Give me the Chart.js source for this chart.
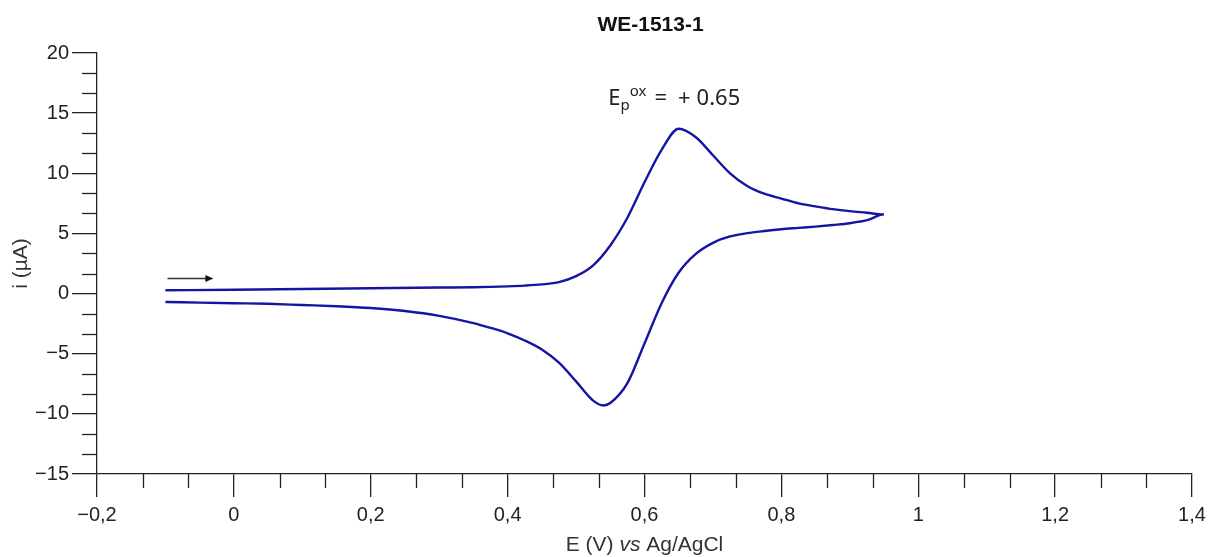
<!DOCTYPE html>
<html>
<head>
<meta charset="utf-8">
<title>WE-1513-1</title>
<script src="https://cdn.jsdelivr.net/npm/chart.js@4/dist/chart.umd.min.js"></script>
<style>
  html, body { margin: 0; padding: 0; background: #fff; }
  #wrap { width: 1212px; height: 557px; }
</style>
</head>
<body>
<div id="wrap"><canvas id="cvChart" width="1212" height="557"></canvas></div>
<script>
// forward scan (E in V, i in µA)
const forwardE = [-0.1, 0.0, 0.1, 0.2, 0.3, 0.35, 0.375, 0.40, 0.425, 0.45, 0.475, 0.50, 0.525, 0.55, 0.575, 0.60, 0.625, 0.65, 0.675, 0.70, 0.725, 0.75, 0.775, 0.80, 0.825, 0.85, 0.875, 0.90, 0.925, 0.95];
const forwardI = [0.27, 0.32, 0.38, 0.44, 0.5, 0.53, 0.56, 0.6, 0.66, 0.76, 0.95, 1.45, 2.35, 4.0, 6.3, 9.25, 11.95, 13.7, 13.0, 11.5, 10.0, 8.95, 8.3, 7.9, 7.5, 7.25, 7.02, 6.85, 6.72, 6.58];

// reverse scan
const reverseE = [0.95, 0.925, 0.90, 0.875, 0.85, 0.825, 0.80, 0.775, 0.75, 0.725, 0.70, 0.675, 0.65, 0.625, 0.60, 0.575, 0.55, 0.54, 0.525, 0.50, 0.475, 0.45, 0.425, 0.40, 0.375, 0.35, 0.30, 0.25, 0.20, 0.15, 0.10, 0.05, 0.0, -0.05, -0.1];
const reverseI = [6.58, 6.1, 5.85, 5.7, 5.57, 5.46, 5.35, 5.2, 5.02, 4.75, 4.22, 3.3, 1.75, -0.8, -4.15, -7.45, -9.1, -9.3, -8.9, -7.3, -5.75, -4.65, -3.9, -3.3, -2.85, -2.45, -1.85, -1.45, -1.2, -1.05, -0.95, -0.85, -0.8, -0.75, -0.7];

// axes
const xTickValues = [-0.2, 0, 0.2, 0.4, 0.6, 0.8, 1.0, 1.2, 1.4];
const xTickLabels = ['\u22120,2', '0', '0,2', '0,4', '0,6', '0,8', '1', '1,2', '1,4'];
const yTickValues = [-15, -10, -5, 0, 5, 10, 15, 20];
const yTickLabels = ['\u221215', '\u221210', '\u22125', '0', '5', '10', '15', '20'];

// annotations
const chartTitle = 'WE-1513-1';
const peakLabelAt = [0.547, 15.7];
const peakValue = '0.65';
const arrowFrom = [-0.097, 1.25];
const arrowTo = [-0.03, 1.25];

const ink = '#222';
const curveColor = '#1515a3';

const points = [];
forwardE.forEach(function (e, k) { points.push({ x: e, y: forwardI[k] }); });
reverseE.forEach(function (e, k) { if (k > 0) points.push({ x: e, y: reverseI[k] }); });

// small ticks (2 between each labelled tick) + annotations
const extrasPlugin = {
  id: 'extras',
  afterDraw(chart) {
    const ctx = chart.ctx;
    const xs = chart.scales.x;
    const ys = chart.scales.y;
    const area = chart.chartArea;
    ctx.save();
    ctx.strokeStyle = ink;
    ctx.lineWidth = 1.3;

    for (let k = 0; k < xTickValues.length - 1; k++) {
      const step = (xTickValues[k + 1] - xTickValues[k]) / 3;
      for (let m = 1; m < 3; m++) {
        const px = Math.round(xs.getPixelForValue(xTickValues[k] + m * step)) + 0.5;
        ctx.beginPath();
        ctx.moveTo(px, area.bottom);
        ctx.lineTo(px, area.bottom + 14);
        ctx.stroke();
      }
    }
    for (let k = 0; k < yTickValues.length - 1; k++) {
      const step = (yTickValues[k + 1] - yTickValues[k]) / 3;
      for (let m = 1; m < 3; m++) {
        const py = Math.round(ys.getPixelForValue(yTickValues[k] + m * step)) + 0.5;
        ctx.beginPath();
        ctx.moveTo(area.left - 15, py);
        ctx.lineTo(area.left, py);
        ctx.stroke();
      }
    }

    // title
    ctx.fillStyle = '#111';
    ctx.font = 'bold 21px "Liberation Sans", Arial, sans-serif';
    ctx.textAlign = 'center';
    ctx.textBaseline = 'alphabetic';
    ctx.fillText(chartTitle, (area.left + area.right) / 2 + 6, 31);

    // x axis title with italic "vs"
    const partA = 'E (V) ';
    const partB = 'vs';
    const partC = ' Ag/AgCl';
    const normal = '21px "Liberation Sans", Arial, sans-serif';
    const italic = 'italic 21px "Liberation Sans", Arial, sans-serif';
    ctx.font = normal;
    const wA = ctx.measureText(partA).width;
    const wC = ctx.measureText(partC).width;
    ctx.font = italic;
    const wB = ctx.measureText(partB).width;
    let tx = (area.left + area.right) / 2 - (wA + wB + wC) / 2;
    const ty = 551;
    ctx.textAlign = 'left';
    ctx.fillStyle = '#333';
    ctx.font = normal;
    ctx.fillText(partA, tx, ty);
    tx += wA;
    ctx.font = italic;
    ctx.fillText(partB, tx, ty);
    tx += wB;
    ctx.font = normal;
    ctx.fillText(partC, tx, ty);

    // E_p^ox = + 0.65
    let ax = xs.getPixelForValue(peakLabelAt[0]);
    const ay = ys.getPixelForValue(peakLabelAt[1]);
    const big = '22px "Noto Sans", sans-serif';
    const small = '15px "Noto Sans", sans-serif';
    ctx.fillStyle = '#222';
    ctx.font = big;
    ctx.fillText('E', ax, ay);
    ax += ctx.measureText('E').width;
    ctx.font = small;
    ctx.fillText('p', ax, ay + 5);
    const wp = ctx.measureText('p').width;
    ctx.fillText('ox', ax + wp, ay - 9);
    ax += wp + ctx.measureText('ox').width + 8;
    ctx.font = big;
    ctx.fillText('=', ax, ay);
    ax += ctx.measureText('=').width + 11;
    ctx.fillText('+', ax, ay);
    ax += ctx.measureText('+').width + 6;
    ctx.fillText(peakValue, ax, ay);

    // scan direction arrow
    const x0 = xs.getPixelForValue(arrowFrom[0]);
    const x1 = xs.getPixelForValue(arrowTo[0]);
    const y0 = ys.getPixelForValue(arrowFrom[1]);
    ctx.strokeStyle = '#333';
    ctx.fillStyle = '#111';
    ctx.lineWidth = 1.5;
    ctx.beginPath();
    ctx.moveTo(x0, y0);
    ctx.lineTo(x1 - 6, y0);
    ctx.stroke();
    ctx.beginPath();
    ctx.moveTo(x1, y0);
    ctx.lineTo(x1 - 8, y0 - 3.5);
    ctx.lineTo(x1 - 8, y0 + 3.5);
    ctx.closePath();
    ctx.fill();
    ctx.restore();
  }
};

Chart.defaults.font.family = '"Liberation Sans", Arial, sans-serif';
Chart.defaults.color = ink;

const ctx = document.getElementById('cvChart').getContext('2d');
const cvChart = new Chart(ctx, {
  type: 'scatter',
  data: {
    datasets: [{
      label: 'WE-1513-1',
      data: points,
      showLine: true,
      borderColor: curveColor,
      borderWidth: 2.4,
      pointRadius: 0,
      cubicInterpolationMode: 'monotone',
      fill: false
    }]
  },
  options: {
    responsive: false,
    animation: false,
    layout: { padding: { top: 53, right: 20, left: 0, bottom: 0 } },
    plugins: {
      legend: { display: false },
      title: { display: false },
      tooltip: { enabled: false }
    },
    scales: {
      x: {
        type: 'linear',
        min: -0.2,
        max: 1.4,
        afterBuildTicks(scale) {
          scale.ticks = xTickValues.map(function (v) { return { value: v }; });
        },
        afterFit(scale) { scale.height = 83; },
        ticks: {
          padding: 6,
          maxRotation: 0,
          font: { size: 20 },
          color: ink,
          callback: function (value, index) { return xTickLabels[index]; }
        },
        grid: { drawOnChartArea: false, drawTicks: true, tickLength: 23, color: ink, lineWidth: 1.3 },
        border: { display: true, color: ink, width: 1.3 }
      },
      y: {
        type: 'linear',
        min: -15,
        max: 20,
        afterBuildTicks(scale) {
          scale.ticks = yTickValues.map(function (v) { return { value: v }; });
        },
        afterFit(scale) { scale.width = 97; },
        ticks: {
          padding: 3,
          font: { size: 20 },
          color: ink,
          callback: function (value, index) { return yTickLabels[index]; }
        },
        title: {
          display: true,
          text: 'i (\u00b5A)',
          color: '#333',
          font: { size: 21 },
          padding: { top: 9, bottom: 0 }
        },
        grid: { drawOnChartArea: false, drawTicks: true, tickLength: 25, color: ink, lineWidth: 1.3 },
        border: { display: true, color: ink, width: 1.3 }
      }
    }
  },
  plugins: [extrasPlugin]
});
</script>
</body>
</html>
